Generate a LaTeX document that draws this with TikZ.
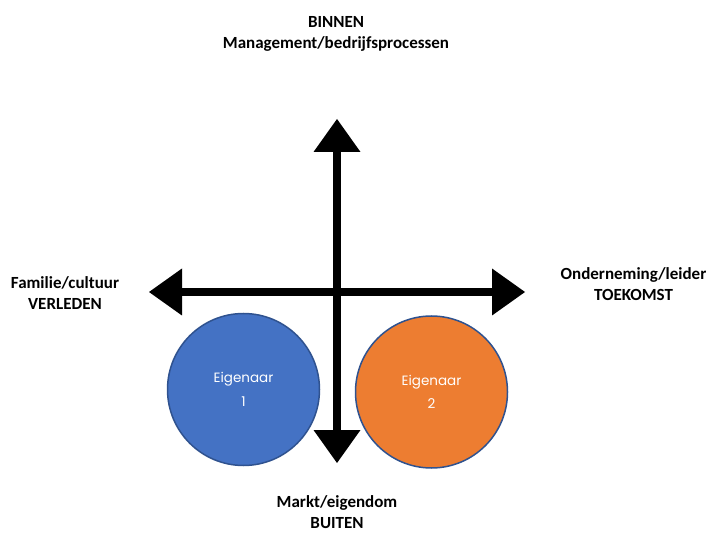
\documentclass[tikz,border=0pt]{standalone}
\usepackage{fontspec}
\setmainfont{Carlito}
\newfontfamily\poppins{Poppins}
\usetikzlibrary{arrows.meta}
\usepackage{xcolor}
\definecolor{eigenaarblauw}{HTML}{4472C4}
\definecolor{eigenaaroranje}{HTML}{ED7D31}
\definecolor{randblauw}{HTML}{2F528F}

\begin{document}
\begin{tikzpicture}[x=1pt, y=-1pt, every node/.style={
    inner sep=0pt,
    align=center,
    font=\bfseries\fontsize{17}{21}\selectfont
}, eigenaar/.style={
    circle,
    draw=randblauw,
    line width=1.5pt,
    minimum size=152pt,
    text=white,
    font=\poppins\fontsize{13.5}{23.5}\selectfont
}, pijl/.style={
    line width=8pt,
    {Triangle[width=47pt, length=33pt, line width=0pt]}-{Triangle[width=47pt, length=33pt, line width=0pt]}
}]
    \useasboundingbox (0, 0) rectangle (709, 534);
    \node (binnen) [shift={(336, 34)}]
    {
        BINNEN\\
        Management/bedrijfsprocessen
    };
    \node (verleden) [shift={(65, 293)}]
    {
        Familie/cultuur\\
        VERLEDEN
    };
    \node (toekomst) [shift={(633.5, 284)}]
    {
        Onderneming/leider\\
        TOEKOMST
    };
    \node (buiten) [shift={(337, 512.5)}]
    {
        Markt/eigendom\\
        BUITEN
    };
    \node (eigenaar_1) [eigenaar, fill=eigenaarblauw, shift={(243.5, 389.5)}]
    {
        Eigenaar\\
        1
    };
    \node (eigenaar_2) [eigenaar, fill=eigenaaroranje, shift={(431.5, 392)}]
    {
        Eigenaar\\
        2
    };
    \coordinate (boven) at (337, 119);
    \coordinate (onder) at (337, 463);
    \coordinate (links) at (149, 292);
    \coordinate (rechts) at (525, 292);
    \draw[pijl] (links) to (rechts);
    \draw[pijl] (boven) to (onder);
\end{tikzpicture}
\end{document}
